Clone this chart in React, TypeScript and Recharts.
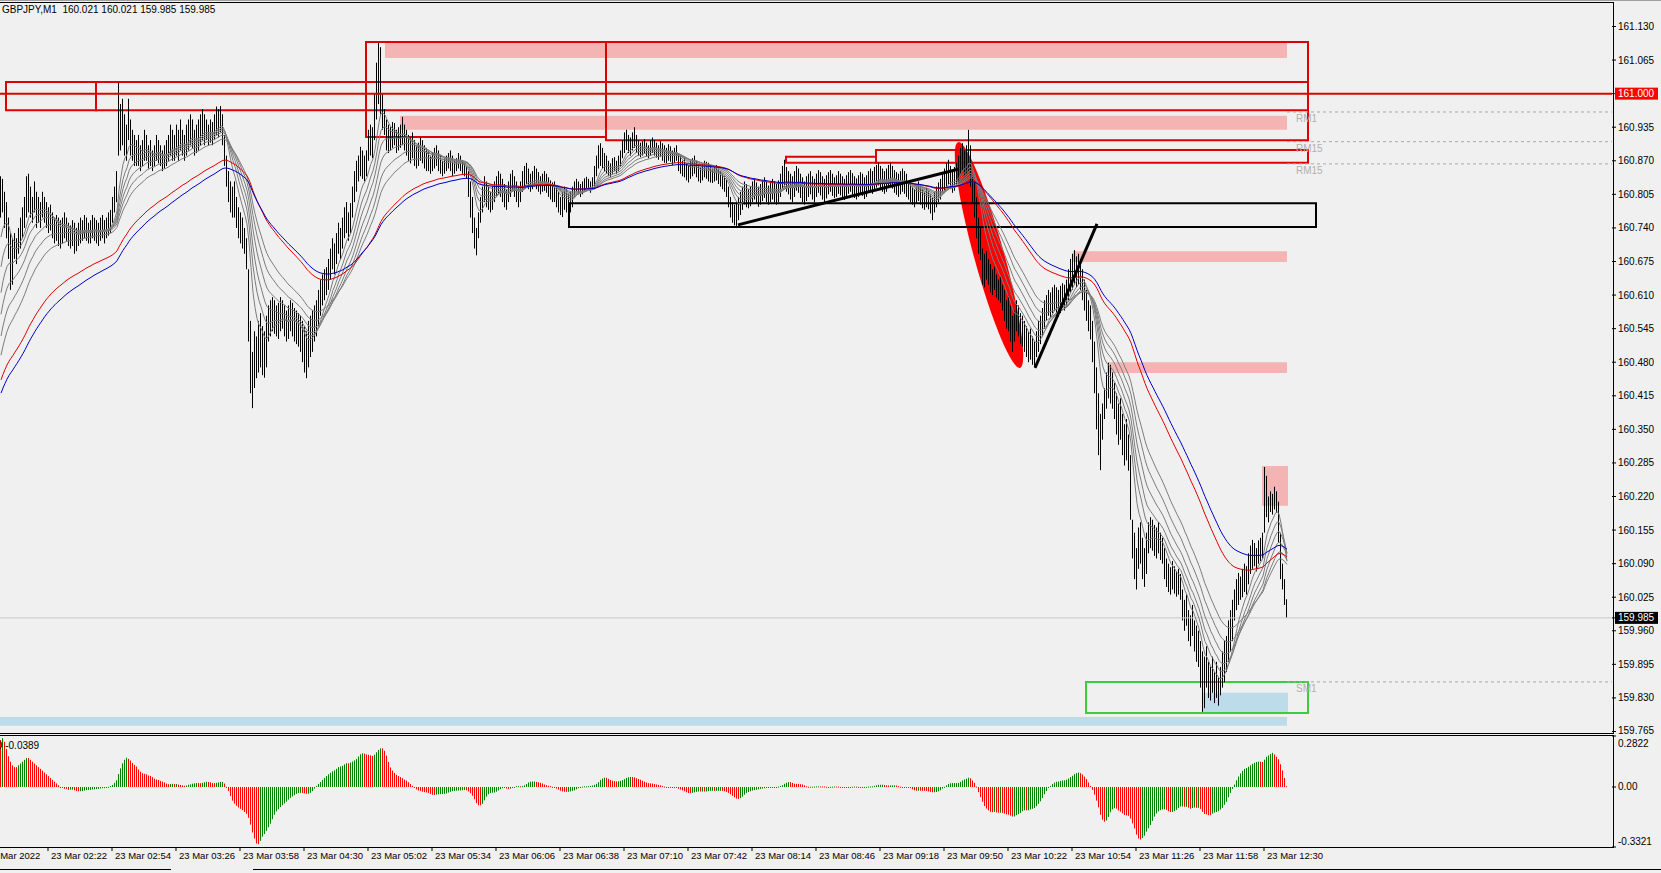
import React from 'react';
import { ComposedChart, Bar, Line, XAxis, YAxis, ReferenceArea, ReferenceLine } from 'recharts';

const FONT = '"Liberation Sans", Arial, sans-serif';
const FS = 10;

// GBPJPY M1 bars [high, low] in thousandths above 160.000, first bar 23 Mar 01:58
const barsA = [
  [840, 760], [835, 770], [810, 740], [790, 720], [760, 680], [730, 620], [720, 630], [730, 680], [720, 670], [740, 690], [760, 700],
  [780, 720], [800, 740], [840, 760], [845, 770], [820, 760], [800, 750], [830, 770], [810, 740], [800, 750], [790, 740], [810, 760],
  [800, 750], [790, 740], [780, 730], [785, 735], [770, 720], [760, 710], [765, 715], [760, 705], [755, 700], [760, 710], [770, 720],
  [760, 715], [750, 705], [745, 700], [755, 705], [750, 690], [740, 695], [750, 705], [760, 710], [755, 715], [765, 720], [760, 715],
  [750, 710], [755, 710], [765, 720], [760, 715], [755, 710], [750, 705], [760, 715], [765, 720], [755, 710], [760, 720], [770, 725],
  [775, 730], [800, 750], [820, 770], [850, 790], [1021, 880], [980, 890], [990, 900], [960, 880], [940, 870], [990, 910], [950, 880],
  [930, 870], [920, 860], [910, 860], [920, 860], [900, 850], [910, 860], [930, 870], [920, 870], [900, 855], [910, 860], [890, 850],
  [900, 860], [920, 870], [910, 865], [900, 860], [890, 850], [900, 855], [910, 860], [920, 870], [940, 880], [930, 870], [920, 870],
  [940, 880], [930, 870], [950, 890], [930, 880], [920, 870], [940, 880], [950, 890], [960, 900], [950, 895], [930, 880], [940, 885],
  [950, 890], [960, 900], [970, 910], [960, 900], [950, 910], [940, 900], [950, 905], [945, 900], [960, 910], [975, 920], [970, 915],
  [976, 925], [960, 900], [920, 860], [880, 820], [850, 790], [830, 770], [820, 760], [830, 760], [800, 740], [780, 720], [770, 710],
  [760, 700], [740, 690], [720, 660], [660, 520], [560, 420], [500, 391], [540, 430], [530, 449], [560, 460], [575, 470], [550, 455],
  [540, 450], [570, 470], [590, 520], [600, 530], [606, 540], [600, 535], [590, 530], [595, 525], [606, 540], [600, 545], [590, 530],
  [580, 520], [590, 525], [600, 540], [595, 530], [585, 520], [580, 515], [575, 510], [570, 500], [560, 480], [550, 460], [540, 449],
  [560, 470], [570, 490], [580, 500], [590, 520], [600, 530], [620, 550], [640, 570], [650, 590], [660, 600], [664, 610],
];
const barsB = [
  [680, 620], [700, 640], [720, 660], [710, 650], [730, 670], [750, 690], [740, 680], [760, 700], [780, 720], [790, 730], [770, 715],
  [788, 730], [820, 760], [850, 790], [870, 810], [880, 830], [897, 840], [890, 835], [880, 830], [890, 840], [930, 870], [940, 880],
  [935, 875], [1000, 910], [1060, 950], [1098, 980], [1090, 960], [1000, 930], [970, 920], [950, 890], [940, 885], [935, 890], [945, 895],
  [943, 900], [930, 885], [935, 890], [940, 895], [955, 900], [940, 890], [930, 880], [920, 870], [915, 865], [925, 875], [910, 860],
  [900, 855], [905, 860], [915, 870], [910, 865], [900, 855], [895, 850], [890, 850], [880, 845], [885, 850], [895, 855], [900, 860],
  [890, 850], [880, 845], [870, 840], [875, 845], [880, 850], [885, 855], [890, 850], [880, 840], [870, 845], [875, 850], [885, 855],
  [880, 850], [870, 845], [865, 840], [860, 835], [850, 800], [830, 760], [800, 730], [760, 700], [740, 687], [770, 720], [800, 750],
  [820, 770], [840, 790], [830, 780], [820, 775], [810, 770], [820, 775], [830, 790], [840, 800], [850, 805], [845, 800], [835, 790],
  [825, 780], [815, 775], [830, 790], [845, 800], [852, 810], [840, 800], [830, 790], [820, 780], [830, 790], [850, 810], [860, 820],
  [866, 825], [855, 815], [845, 810], [850, 815], [860, 820], [855, 815], [848, 810], [840, 805], [845, 810], [850, 812], [845, 808],
  [838, 800], [832, 795], [828, 790], [830, 790], [820, 780], [810, 770], [800, 765], [810, 761], [820, 775], [815, 770], [805, 765],
  [810, 770], [820, 780], [830, 800], [835, 810], [830, 805], [825, 800], [830, 805], [836, 810], [839, 815], [835, 812], [830, 808],
  [838, 815], [860, 820], [880, 840], [900, 855], [904, 860], [895, 855], [885, 850], [880, 845], [870, 840], [865, 839], [875, 845],
  [877, 850], [870, 845], [880, 850], [890, 860], [910, 875], [925, 885], [930, 891], [920, 885], [915, 880], [925, 890], [935, 895],
  [920, 885], [910, 880], [905, 877], [908, 880], [912, 885], [905, 878], [900, 875], [910, 880], [915, 885], [910, 880], [905, 876],
  [900, 872], [908, 878], [904, 870], [900, 866], [895, 865], [902, 870], [898, 868], [890, 862], [895, 866], [900, 870], [885, 850],
  [880, 845], [870, 840], [875, 838], [865, 832], [860, 828], [870, 835], [875, 840], [880, 845], [870, 838], [862, 830], [858, 827],
  [865, 832], [870, 838], [868, 835], [866, 830], [860, 828], [855, 827], [858, 830], [862, 832], [855, 825], [850, 820], [845, 815],
  [840, 810], [835, 800],
];
const barsC = [
  [820, 780], [800, 760], [790, 750], [785, 745], [790, 742], [800, 755], [810, 765], [820, 775], [830, 785], [825, 780], [815, 778],
  [820, 782], [830, 790], [835, 795], [828, 788], [820, 781], [825, 785], [832, 792], [838, 798], [830, 790], [822, 785], [828, 790],
  [835, 795], [830, 790], [825, 785], [832, 790], [845, 800], [860, 815], [872, 820], [858, 810], [850, 805], [845, 795], [840, 790],
  [850, 800], [860, 812], [855, 808], [845, 798], [838, 790], [830, 785], [840, 792], [845, 800], [850, 805], [840, 795], [835, 790],
  [845, 800], [852, 808], [848, 803], [840, 795], [835, 788], [842, 797], [848, 805], [852, 810], [845, 802], [838, 798], [842, 800],
  [850, 806], [845, 803], [840, 798], [835, 794], [842, 800], [848, 806], [852, 810], [846, 804], [840, 798], [836, 795], [842, 800],
  [848, 805], [845, 802], [838, 796], [842, 800], [850, 808], [855, 812], [850, 806], [858, 812], [862, 818], [866, 822], [860, 815],
  [855, 810], [850, 806], [855, 810], [862, 818], [866, 822], [860, 816], [852, 808], [848, 804], [845, 800], [850, 805], [855, 810],
  [850, 806], [845, 800], [830, 795], [825, 790], [820, 785], [815, 780], [825, 788], [830, 792], [822, 785], [815, 778], [810, 775],
  [818, 780], [812, 776], [805, 768], [800, 755], [810, 770], [820, 780], [828, 790], [835, 795], [845, 805], [855, 812], [865, 820],
  [872, 825], [860, 815], [850, 808], [858, 812], [866, 820], [880, 830], [895, 845], [904, 850], [890, 840], [900, 845], [930, 850],
  [900, 820], [840, 790], [830, 760], [800, 720], [760, 690], [740, 678],
];
const barsD = [
  [700, 630], [690, 625], [695, 640], [680, 630], [670, 615], [660, 610], [665, 620], [650, 605], [640, 600], [645, 595], [630, 580],
  [620, 560], [600, 545], [610, 540], [590, 520], [570, 500], [580, 520], [600, 540], [590, 530], [575, 515], [570, 510], [560, 500],
  [550, 490], [540, 480], [545, 485], [530, 475], [520, 471], [540, 490], [560, 500], [570, 515], [585, 530], [600, 545], [610, 560],
  [620, 570], [615, 565], [625, 575], [630, 580], [625, 575], [620, 568], [628, 575], [633, 585], [630, 580], [640, 590], [660, 600],
  [680, 615], [690, 620], [697, 630], [685, 625], [690, 630], [680, 620], [660, 600], [640, 580], [620, 560], [600, 540], [590, 524],
  [560, 480], [520, 420], [470, 350], [420, 300], [380, 271], [400, 330], [430, 370], [460, 390], [479, 410], [475, 400], [460, 390],
  [440, 370], [420, 340], [400, 320], [410, 330], [380, 300], [360, 280], [370, 290], [340, 270], [300, 175], [175, 100], [150, 60],
  [120, 40], [160, 80], [170, 90], [140, 60], [120, 45], [150, 70], [170, 110], [180, 120], [175, 115], [165, 105], [160, 100],
  [170, 110], [150, 97], [140, 90], [120, 60], [100, 45], [90, 35], [83, 30], [95, 40], [85, 32], [75, 26], [80, 30], [70, 20],
  [40, -20], [20, -40], [30, -30], [0, -60], [-10, -70], [10, -50], [-20, -80], [-30, -100], [-40, -110], [-60, -150], [-80, -197],
  [-90, -190], [-70, -150], [-100, -170], [-110, -175], [-90, -160], [-120, -180], [-100, -170], [-130, -185], [-110, -165], [-80, -150],
  [-60, -140], [-50, -120], [-20, -100], [0, -80], [20, -60], [40, -20], [60, 0], [72, 10], [65, 20], [80, 25], [90, 35], [85, 30],
  [110, 50], [125, 70], [136, 80], [130, 85], [120, 75], [135, 90], [140, 95], [150, 100], [277, 150], [260, 180], [220, 170],
  [230, 190], [225, 185], [239, 195], [230, 188], [210, 130], [150, 60], [90, 40], [60, 10], [21, -15],
];

// AO values at the left edge (before its 34-bar window is filled)
const aoHead = [0.26, 0.27, 0.25, 0.21, 0.17, 0.14, 0.12, 0.11, 0.11, 0.12, 0.13, 0.14, 0.15, 0.16, 0.16, 0.15, 0.14,
  0.13, 0.12, 0.11, 0.1, 0.09, 0.08, 0.07, 0.06, 0.05, 0.04, 0.03, 0.02, 0.01, 0, 0, -0.01, -0.01];

const emaPeriods = [8, 12, 16, 21, 27, 34, 66, 76];
const emaSeeds = [160.7, 160.64, 160.59, 160.55, 160.51, 160.475, 160.435, 160.41];
const emaColors = ['#7c7c7c', '#7c7c7c', '#7c7c7c', '#7c7c7c', '#7c7c7c', '#7c7c7c', '#e00000', '#0000c8'];

const priceTicks = [161.13, 161.065, 161.0, 160.935, 160.87, 160.805, 160.74, 160.675, 160.61, 160.545, 160.48, 160.415,
  160.35, 160.285, 160.22, 160.155, 160.09, 160.025, 159.985, 159.96, 159.895, 159.83, 159.765];
const lastClose = 159.985;
const levelPrice = 161.0;
const aoTicks = [0.2822, 0, -0.3321];

const timeTickIdx = [-8, 24, 56, 88, 120, 152, 184, 216, 248, 280, 312, 344, 376, 408, 440, 472, 504, 536, 568, 600, 632];
const timeLabels = ['23 Mar 2022', '23 Mar 02:22', '23 Mar 02:54', '23 Mar 03:26', '23 Mar 03:58', '23 Mar 04:30',
  '23 Mar 05:02', '23 Mar 05:34', '23 Mar 06:06', '23 Mar 06:38', '23 Mar 07:10', '23 Mar 07:42', '23 Mar 08:14',
  '23 Mar 08:46', '23 Mar 09:18', '23 Mar 09:50', '23 Mar 10:22', '23 Mar 10:54', '23 Mar 11:26', '23 Mar 11:58', '23 Mar 12:30'];

// drawn objects: [barFrom, barTo, priceLow, priceHigh]
const pinkZones = [
  [192.5, 643.5, 161.069, 161.098],
  [200, 643.5, 160.93, 160.957],
  [536.5, 643.5, 160.674, 160.695],
  [553.5, 643.5, 160.459, 160.48],
  [631, 644, 160.202, 160.279],
];
const blueZones = [[601.5, 644, 159.801, 159.84], [0, 643.5, 159.776, 159.793]];
const redBoxes = [
  [3, 48, 160.968, 161.0225],
  [48, 654, 160.968, 161.0225],
  [183, 303, 160.916, 161.1],
  [303, 654, 160.91, 161.1],
  [393, 438, 160.866, 160.878],
  [438, 654, 160.866, 160.891],
];
const greenBoxes = [[543, 654, 159.801, 159.861]];
const blackBoxes = [[284.5, 658, 160.742, 160.788]];
const trendLines = [[369, 160.746, 479.5, 160.854], [517.5, 160.469, 548.5, 160.748]];
const ellipseZone = [479, 510, 160.469, 160.906];
const levels = [
  { price: 160.9645, name: 'RM1' },
  { price: 160.907, name: 'RM15' },
  { price: 160.864, name: 'RM15' },
  { price: 159.861, name: 'SM1' },
];

const allBars = [...barsA, ...barsB, ...barsC, ...barsD];
const P = (v: number) => 160 + v / 1000;
const med = allBars.map(([h, l]) => P((h + l) / 2));
const emas = emaPeriods.map((n, k) => {
  const a = 2 / (n + 1);
  let e = emaSeeds[k];
  return med.map((m) => (e = e + a * (m - e)));
});
const sma = (n: number, i: number) => {
  const s = Math.max(0, i - n + 1);
  let t = 0;
  for (let j = s; j <= i; j++) t += med[j];
  return t / (i - s + 1);
};
const ao = med.map((_, i) => (i < aoHead.length ? aoHead[i] : sma(5, i) - sma(34, i)));

const rows = allBars.map(([h, l], i) => {
  const r: any = { x: i + 0.5, hl: [P(l), P(h)], ao: ao[i], up: i > 0 && ao[i] > ao[i - 1] };
  emas.forEach((e, k) => (r['e' + k] = e[i]));
  return r;
});

const PriceBar = (p: any) => {
  const cx = Math.floor(p.x + p.width / 2) + 0.5;
  const y1 = Math.min(p.y, p.y + p.height);
  const h = Math.max(1, Math.abs(p.height));
  return <line x1={cx} x2={cx} y1={y1} y2={y1 + h} stroke="#000" strokeWidth={1} />;
};

const AoBar = (p: any) => {
  const cx = Math.floor(p.x + p.width / 2) + 0.5;
  const y1 = Math.min(p.y, p.y + p.height);
  const h = Math.max(1, Math.abs(p.height));
  return <line x1={cx} x2={cx} y1={y1} y2={y1 + h} stroke={p.payload.up ? '#008000' : '#ff0000'} strokeWidth={1} />;
};

const EllipseShape = (p: any) => {
  const cx = p.x + p.width / 2;
  const cy = p.y + p.height / 2;
  const rx = Math.hypot(p.width, p.height) / 2;
  const ang = (Math.atan2(p.height, p.width) * 180) / Math.PI;
  return <ellipse cx={cx} cy={cy} rx={rx} ry={15} transform={`rotate(${ang} ${cx} ${cy})`} fill="#ff0000" />;
};

const PriceTick = (p: any) => {
  const v = p.payload.value;
  const s = v.toFixed(3);
  if (v === levelPrice || v === lastClose) {
    return (
      <g>
        <rect x={p.x - 3} y={p.y - 6} width={43} height={12} fill={v === levelPrice ? '#ff0000' : '#000'} />
        <text x={p.x} y={p.y} dy="0.35em" fill="#fff" fontSize={FS} fontFamily={FONT}>{s}</text>
      </g>
    );
  }
  const dy = v < 159.8 ? '0.2em' : '0.35em';
  return <text x={p.x} y={p.y} dy={dy} fill="#000" fontSize={FS} fontFamily={FONT}>{s}</text>;
};

const AoTick = (p: any) => {
  const v = p.payload.value;
  const dy = v > 0 ? 7 : v < 0 ? -6 : 0;
  return <text x={p.x} y={p.y + dy} dy="0.35em" fill="#000" fontSize={FS} fontFamily={FONT}>{v === 0 ? '0.00' : String(v)}</text>;
};

const TimeTick = (p: any) => {
  const k = timeTickIdx.indexOf(p.payload.value);
  return <text x={p.x + 3} y={p.y + 8} fill="#000" fontSize={9.5} fontFamily={FONT}>{timeLabels[k]}</text>;
};

const levelLabel = (name: string) => (props: any) => {
  const vb = props.viewBox || {};
  return <text x={(vb.x || 0) + 9} y={(vb.y || 0) + 10} fill="#b0b0b0" fontSize={FS} fontFamily={FONT}>{name}</text>;
};

const frame = (top: number, height: number): React.CSSProperties => ({
  position: 'absolute', left: -1, top, width: 1613, height, border: '1px solid #000', pointerEvents: 'none',
});

export default function App() {
  return (
    <div style={{ position: 'absolute', left: 0, top: 0, width: 1661, height: 873, background: '#f0f0f0', overflow: 'hidden' }}>
      <div style={{ position: 'absolute', left: 0, top: 0 }}>
        <ComposedChart width={1661} height={735} data={rows} margin={{ top: 3, right: 0, bottom: 2, left: 0 }}>
          <XAxis type="number" dataKey="x" domain={[0, 806]} allowDataOverflow hide />
          <YAxis
            orientation="right"
            width={49}
            domain={[159.7621, 161.1755]}
            allowDataOverflow
            ticks={priceTicks}
            interval={0}
            tickSize={4}
            tickMargin={2}
            axisLine={false}
            tickLine={{ stroke: '#000' }}
            tick={PriceTick}
          />
          {pinkZones.map((z, i) => (
            <ReferenceArea key={'p' + i} x1={z[0]} x2={z[1]} y1={z[2]} y2={z[3]} fill="#f5b4b4" fillOpacity={1} stroke="none" />
          ))}
          {blueZones.map((z, i) => (
            <ReferenceArea key={'b' + i} x1={z[0]} x2={z[1]} y1={z[2]} y2={z[3]} fill="#bcdcea" fillOpacity={1} stroke="none" />
          ))}
          <ReferenceArea x1={ellipseZone[0]} x2={ellipseZone[1]} y1={ellipseZone[2]} y2={ellipseZone[3]} shape={EllipseShape} />
          {levels.map((l, i) => (
            <ReferenceLine
              key={'l' + i}
              segment={[{ x: 643.5, y: l.price }, { x: 806, y: l.price }]}
              stroke="#a8a8a8"
              strokeDasharray="3 3"
              label={levelLabel(l.name)}
            />
          ))}
          <ReferenceLine y={lastClose} stroke="#c8c8c8" />
          {redBoxes.map((z, i) => (
            <ReferenceArea key={'r' + i} x1={z[0]} x2={z[1]} y1={z[2]} y2={z[3]} fill="none" stroke="#e00000" strokeWidth={2} />
          ))}
          {greenBoxes.map((z, i) => (
            <ReferenceArea key={'g' + i} x1={z[0]} x2={z[1]} y1={z[2]} y2={z[3]} fill="none" stroke="#3ccc3c" strokeWidth={2} />
          ))}
          {blackBoxes.map((z, i) => (
            <ReferenceArea key={'k' + i} x1={z[0]} x2={z[1]} y1={z[2]} y2={z[3]} fill="none" stroke="#000" strokeWidth={2} />
          ))}
          <Bar dataKey="hl" barSize={1} shape={PriceBar} isAnimationActive={false} />
          {emaPeriods.map((n, k) => (
            <Line key={n} dataKey={'e' + k} type="linear" dot={false} stroke={emaColors[k]} strokeWidth={1} isAnimationActive={false} />
          ))}
          <ReferenceLine y={levelPrice} stroke="#e00000" strokeWidth={2} />
          {trendLines.map((t, i) => (
            <ReferenceLine key={'t' + i} segment={[{ x: t[0], y: t[1] }, { x: t[2], y: t[3] }]} stroke="#000" strokeWidth={3} />
          ))}
        </ComposedChart>
      </div>
      <div style={{ position: 'absolute', left: 0, top: 735 }}>
        <ComposedChart width={1661} height={138} data={rows} margin={{ top: 1, right: 0, bottom: 0, left: 0 }}>
          <XAxis
            type="number"
            dataKey="x"
            domain={[0, 806]}
            allowDataOverflow
            ticks={timeTickIdx}
            interval={0}
            height={26}
            tickSize={4}
            tickMargin={0}
            axisLine={false}
            tickLine={{ stroke: '#000' }}
            tick={TimeTick}
          />
          <YAxis
            orientation="right"
            width={49}
            domain={[-0.3321, 0.2822]}
            allowDataOverflow
            ticks={aoTicks}
            interval={0}
            tickSize={4}
            tickMargin={2}
            axisLine={false}
            tickLine={{ stroke: '#000' }}
            tick={AoTick}
          />
          <Bar dataKey="ao" barSize={1} shape={AoBar} isAnimationActive={false} />
        </ComposedChart>
      </div>
      <div style={{ position: 'absolute', left: 2, top: 4, font: `${FS}px ${FONT}`, whiteSpace: 'pre', color: '#000' }}>
        GBPJPY,M1  160.021 160.021 159.985 159.985
      </div>
      <div style={{ position: 'absolute', left: -12, top: 740, font: `${FS}px ${FONT}`, whiteSpace: 'pre', color: '#000' }}>
        AO -0.0389
      </div>
      <div style={frame(2, 730)} />
      <div style={frame(735, 111)} />
      <div style={{ position: 'absolute', left: 0, top: 0, width: 1661, height: 1, background: '#a0a0a0' }} />
      <div style={{ position: 'absolute', left: 0, top: 869, width: 171, height: 1, background: '#000' }} />
      <div style={{ position: 'absolute', left: 253, top: 869, width: 1408, height: 1, background: '#000' }} />
    </div>
  );
}
